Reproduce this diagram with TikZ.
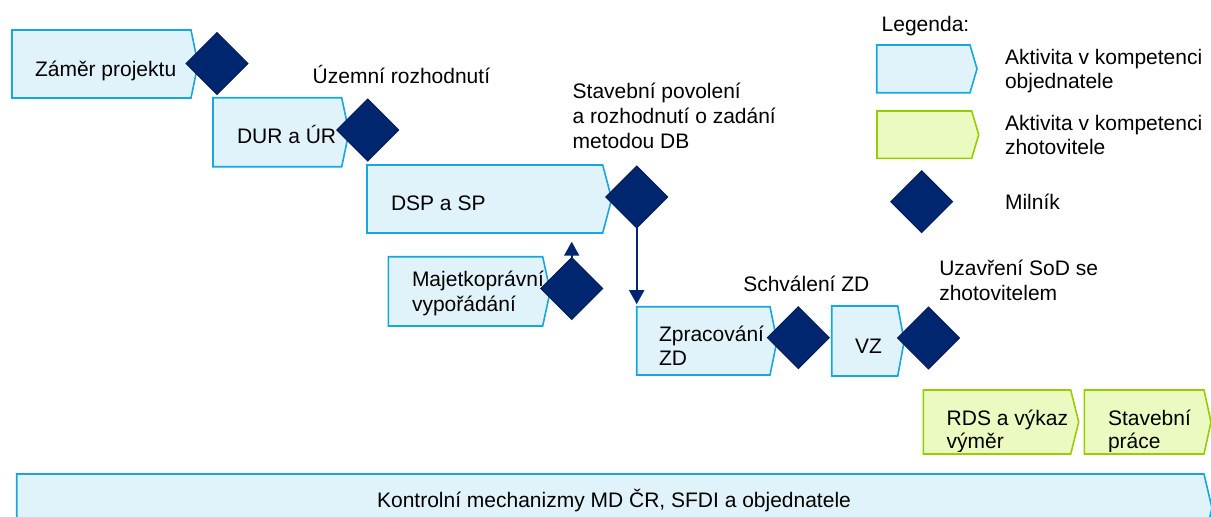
\documentclass[tikz,border=0pt]{standalone}
\usepackage{fontspec}
\setmainfont{Liberation Sans}
\usetikzlibrary{arrows.meta,shapes.geometric,fit,calc}

\definecolor{ownfill}{RGB}{225,243,250}
\definecolor{ownline}{RGB}{22,166,224}
\definecolor{confill}{RGB}{235,250,192}
\definecolor{conline}{RGB}{150,205,0}
\definecolor{navy}{RGB}{0,38,112}
\definecolor{navyedge}{RGB}{0,26,82}

% activity box: name, style, left, top, right (body), bottom, point depth
\newcommand\actbox[7]{%
  \node[fit={(#3,#4) (#5,#6)}] (#1) {};
  \draw[#2] (#1.north west) -- (#1.north east) -- ([xshift=#7pt]#1.east)
    -- (#1.south east) -- (#1.south west) -- cycle;}

\begin{document}
\begin{tikzpicture}[x=1pt,y=-1pt,
  every node/.style={inner sep=0pt,outer sep=0pt,font=\fontsize{21}{25}\selectfont},
  ownbox/.style={fill=ownfill,draw=ownline,line width=1.6pt,line join=miter},
  conbox/.style={fill=confill,draw=conline,line width=1.6pt,line join=miter},
  milestone/.style={diamond,aspect=1,minimum width=62pt,minimum height=62pt,
    fill=navy,draw=navyedge,line width=0.8pt},
  txt/.style={anchor=base west,text=black},
  flow/.style={draw=navy,line width=2pt,-{Triangle[width=15pt,length=14pt]}}]
\useasboundingbox (0,0) rectangle (1211,517);
\clip (0,0) rectangle (1211,517);

% client activities
\actbox{zamer}{ownbox}{12}{30}{191}{98}{7}
\actbox{dur}{ownbox}{213}{97.7}{341.7}{166.7}{7.3}
\actbox{dsp}{ownbox}{367}{165}{602.7}{233}{9}
\actbox{maj}{ownbox}{388.3}{256.7}{542.7}{326}{7.5}
\actbox{zd}{ownbox}{636.7}{306.7}{770}{375}{7}
\actbox{vz}{ownbox}{831.7}{306}{897.7}{376}{6.5}
% contractor activities
\actbox{rds}{conbox}{923.3}{390}{1070.7}{454}{8}
\actbox{sp}{conbox}{1084.3}{390}{1204}{454}{7}
% control bar
\actbox{kontrol}{ownbox}{16.7}{474}{1204}{542}{8}
% legend boxes
\actbox{legown}{ownbox}{876.7}{45}{970}{92.7}{7}
\actbox{legcon}{conbox}{877}{111}{971.7}{158.3}{7}

% milestones
\node[milestone] (m1) at (217,63.5) {};
\node[milestone] (m2) at (367.7,130) {};
\node[milestone] (m3) at (636.7,197) {};
\node[milestone] (m4) at (571.7,288.5) {};
\node[milestone] (m5) at (798.3,337.7) {};
\node[milestone] (m6) at (928.5,338) {};
\node[milestone] (mleg) at (921.7,201.7) {};

% dependencies
\coordinate (uptip) at (571.7,241.7);
\draw[flow] (m4.north) -- (uptip);
\draw[flow,shorten >=2.5pt] (m3.south) -- (m3.south |- zd.north);

% activity labels
\node[txt] (tzamer) at (35,76) {Záměr projektu};
\node[txt] (tdur) at (237,143.3) {DUR a ÚR};
\node[txt] (tdsp) at (391,210) {DSP a SP};
\begin{scope}
  \clip (380,250) rectangle (565,316);
  \node[txt] (tmaja) at (412,286.7) {Majetkoprávní};
  \node[txt] (tmajb) at (412,311.7) {vypořádání};
\end{scope}
\node[txt] (tzda) at (659,341.7) {Zpracování};
\node[txt] (tzdb) at (659,365) {ZD};
\node[txt] (tvz) at (855,353.3) {VZ};
\begin{scope}
  \clip (930,395) rectangle (1211,451);
  \node[txt] (trdsa) at (946.7,425) {RDS a výkaz};
  \node[txt] (trdsb) at (946.7,448.3) {výměr};
  \node[txt] (tspa) at (1108,425) {Stavební};
  \node[txt] (tspb) at (1108,448.3) {práce};
\end{scope}
\node[anchor=base] (tkontrol) at (614,507.5) {Kontrolní mechanizmy MD ČR, SFDI a objednatele};

% milestone labels
\node[txt] (lur) at (312.7,83.3) {Územní rozhodnutí};
\node[txt] (lspa) at (572.7,98.3) {Stavební povolení};
\node[txt] (lspb) at (572.7,123.3) {a rozhodnutí o zadání};
\node[txt] (lspc) at (572.7,148.3) {metodou DB};
\node[txt] (lzd) at (743.3,291.7) {Schválení ZD};
\node[txt] (lsoda) at (939.3,275) {Uzavření SoD se};
\node[txt] (lsodb) at (939.3,300) {zhotovitelem};

% legend
\node[txt] (leg) at (881.7,31) {Legenda:};
\node[txt] (legowna) at (1005,64.5) {Aktivita v kompetenci};
\node[txt] (legownb) at (1005,88.5) {objednatele};
\node[txt] (legcona) at (1005,130.5) {Aktivita v kompetenci};
\node[txt] (legconb) at (1005,154.5) {zhotovitele};
\node[txt] (legms) at (1005,209.5) {Milník};
\end{tikzpicture}
\end{document}
